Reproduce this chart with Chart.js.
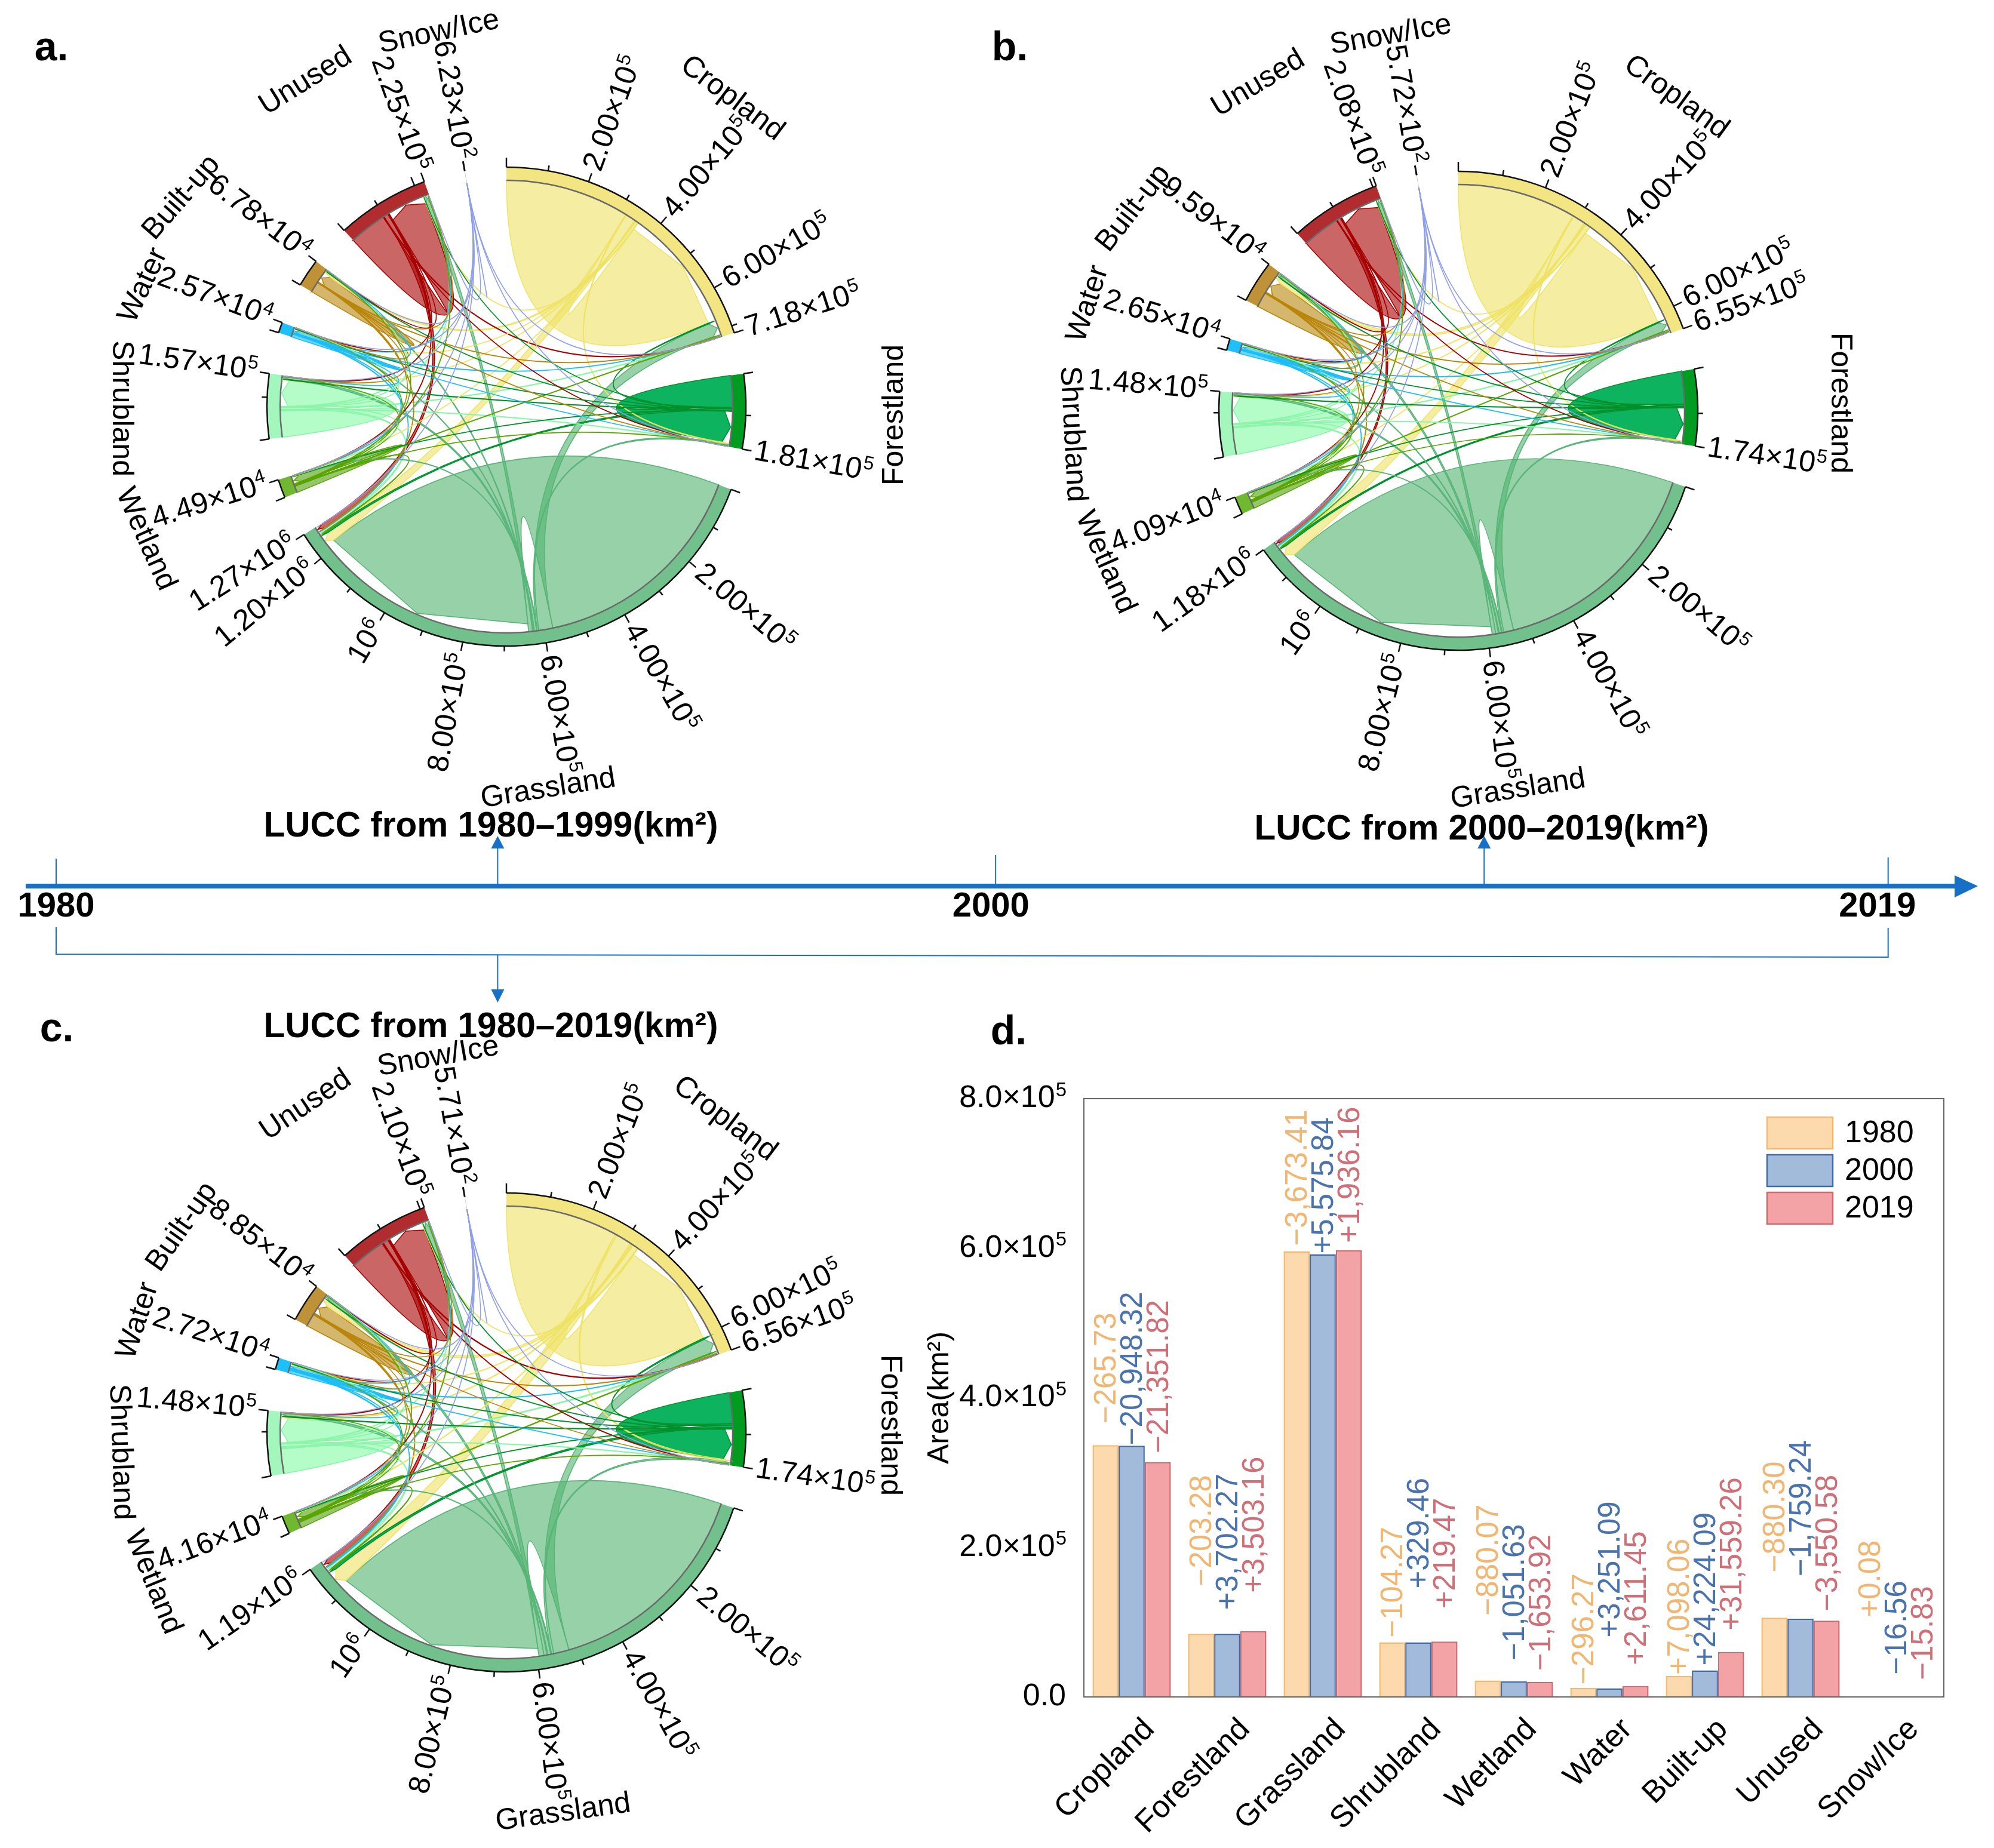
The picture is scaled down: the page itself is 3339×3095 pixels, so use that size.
<!DOCTYPE html>
<html>
<head>
<meta charset="utf-8">
<title>LUCC</title>
<script src="https://cdn.jsdelivr.net/npm/chart.js@4"></script>
<style>
html, body { margin: 0; background: #fff; }
#page { position: relative; width: 3339px; height: 3095px; overflow: hidden; font-family: "Liberation Sans", Arial, sans-serif; }
canvas { position: absolute; }
.letter, .title { position: absolute; font-weight: bold; color: #000; white-space: nowrap; transform: translate(-50%, -50%); }
.letter { font-size: 68px; }
.title { font-size: 58.5px; }
</style>
</head>
<body>
<div id="page">
  <canvas id="timeline" width="3339" height="320" style="left:0;top:1380px"></canvas>
  <canvas id="chordA" width="1400" height="1400"></canvas>
  <canvas id="chordB" width="1400" height="1400"></canvas>
  <canvas id="chordC" width="1400" height="1400"></canvas>
  <canvas id="bars" width="1799" height="1295" style="left:1540px;top:1800px"></canvas>
  <div class="letter" style="left:86px;top:77px">a.</div>
  <div class="letter" style="left:1691px;top:77px">b.</div>
  <div class="letter" style="left:95px;top:1720px">c.</div>
  <div class="letter" style="left:1689px;top:1725px">d.</div>
  <div class="title" style="left:822px;top:1380px">LUCC from 1980–1999(km²)</div>
  <div class="title" style="left:2481px;top:1385px">LUCC from 2000–2019(km²)</div>
  <div class="title" style="left:822px;top:1716px">LUCC from 1980–2019(km²)</div>
</div>
<script>
// land use classes
const categories = ['Cropland', 'Forestland', 'Grassland', 'Shrubland', 'Wetland', 'Water', 'Built-up', 'Unused', 'Snow/Ice'];
// clockwise order of the classes round a chord ring, wetland sits before shrubland there
const ringOrder = [0, 1, 2, 4, 3, 5, 6, 7, 8];

// ring totals
const totalsA = [718000, 181000, 1270000, 157000, 44900, 25700, 67800, 225000, 623];
const totalsB = [655000, 174000, 1180000, 148000, 40900, 26500, 95900, 208000, 572];
const totalsC = [656000, 174000, 1190000, 148000, 41600, 27200, 88500, 210000, 571];

// transfer tables, row = from, column = to (estimated from ribbon widths)
const flowsA = [
    [317000, 2200, 25000, 1500, 1200, 1300, 6200, 1300, 0],
    [2300, 81000, 5000, 1400, 300, 200, 500, 300, 0],
    [36000, 4000, 577000, 6000, 1500, 1700, 2700, 10000, 0],
    [2000, 1500, 5500, 67000, 300, 200, 300, 1500, 0],
    [1300, 300, 2000, 300, 16500, 1200, 200, 1000, 0],
    [1000, 150, 1500, 150, 800, 8200, 300, 300, 0],
    [700, 50, 1400, 30, 50, 100, 27000, 200, 0],
    [1500, 400, 12000, 1300, 900, 400, 700, 96000, 0],
    [22, 14, 30, 10, 6, 6, 8, 40, 240]
];
const flowsB = [
    [285000, 2300, 30000, 1700, 1300, 1800, 10500, 1100, 0],
    [2000, 78000, 4200, 1200, 250, 250, 800, 300, 0],
    [24000, 4000, 537000, 5500, 1400, 2000, 6500, 8500, 0],
    [1800, 1200, 4800, 63800, 300, 200, 500, 1300, 0],
    [1300, 250, 1700, 250, 15200, 1000, 300, 800, 0],
    [1200, 150, 1300, 120, 700, 8100, 600, 300, 0],
    [1000, 100, 2000, 80, 100, 200, 35700, 300, 0],
    [1300, 400, 9000, 1200, 700, 350, 1300, 90300, 0],
    [20, 12, 28, 8, 5, 6, 8, 35, 225]
];
const flowsC = [
    [270600, 4000, 38000, 3000, 2000, 2500, 12500, 2000, 0],
    [3500, 74000, 6000, 1700, 400, 350, 900, 500, 0],
    [37000, 5500, 522000, 7000, 2000, 2300, 7000, 12000, 0],
    [3000, 1700, 6500, 59500, 300, 250, 500, 2000, 0],
    [2000, 400, 2400, 350, 13700, 1100, 300, 1000, 0],
    [1300, 200, 2000, 150, 800, 7200, 700, 400, 0],
    [1200, 100, 2400, 100, 100, 300, 30300, 300, 0],
    [2300, 600, 13000, 1800, 900, 450, 1300, 85500, 0],
    [20, 12, 30, 8, 5, 6, 8, 32, 225]
];

// panel d
const area1980 = [336800, 84500, 596000, 73000, 22000, 12000, 28000, 106000, 300];
const area2000 = [336000, 84500, 592000, 73000, 21000, 11500, 35500, 104500, 300];
const area2019 = [314000, 88000, 597500, 74000, 20000, 14500, 60000, 102000, 300];
const change1980 = ['−265.73', '−203.28', '−3,673.41', '−104.27', '−880.07', '−296.27', '+7,098.06', '−880.30', '+0.08'];
const change2000 = ['−20,948.32', '+3,702.27', '+5,575.84', '+329.46', '−1,051.63', '+3,251.09', '+24,224.09', '−1,759.24', '−16.56'];
const change2019 = ['−21,351.82', '+3,503.16', '+1,936.16', '+219.47', '−1,653.92', '+2,611.45', '+31,559.26', '−3,550.58', '−15.83'];

// timeline
const timelineYears = [1980, 2000, 2019];
const timelineArrows = [1989.4, 2010.4];

// styling
const ringColors = ['#f3e682', '#009c22', '#72c08b', '#a3f7bd', '#70b830', '#1fc0fa', '#bf9238', '#b02c2f', '#8fa0c8'];
const ribbonFills = ['rgba(238,226,100,.6)', 'rgba(0,175,85,.95)', 'rgba(80,178,110,.6)', 'rgba(140,250,170,.65)', 'rgba(80,160,10,.6)', 'rgba(0,190,255,.6)', 'rgba(184,134,11,.6)', 'rgba(166,0,0,.6)', 'rgba(130,150,235,.7)'];
const ribbonLines = ['rgba(238,226,100,.9)', '#00902c', '#5ab57a', '#8cf5aa', '#5aa500', '#1fbdf5', '#b8860b', '#a60000', '#8fa0e8'];
const FONT = '"Liberation Sans", Arial, sans-serif';
const BLUE = '#1570c6';

// page position and rotation of the class names around each ring
const namesA = [[1226, 165, 37], [1498, 695, -90], [918, 1321, -9], [203, 684, 90], [244, 903, 66], [240, 478, -65], [304, 331, -49], [512, 136, -32], [735, 54, -12]];
const namesB = [[2807, 163, 36], [3081, 675, 90], [2542, 1322, -9], [1796, 727, 87], [1851, 942, 66], [1822, 509, -72], [1898, 349, -52], [2107, 140, -31], [2329, 59, -10]];
const namesC = [[1214, 1874, 37], [1490, 2387, 90], [943, 3036, -8], [202, 2432, 88], [256, 2650, 68], [231, 2212, -72], [305, 2055, -55], [512, 1851, -34], [734, 1770, -10]];

function sciParts(v) {
    if (v === 1000000) return ['10', '6'];
    const exp = Math.floor(Math.log10(v));
    return [(v / Math.pow(10, exp)).toFixed(2) + '×10', String(exp)];
}

// base text with a raised exponent, x is where the whole string starts or ends
function drawSup(ctx, parts, x, y, align, size) {
    const supSize = Math.round(size * 0.64);
    ctx.font = size + 'px ' + FONT;
    const w0 = ctx.measureText(parts[0]).width;
    ctx.font = supSize + 'px ' + FONT;
    const w1 = ctx.measureText(parts[1]).width;
    const left = align === 'right' ? x - w0 - w1 : x;
    ctx.textAlign = 'left';
    ctx.textBaseline = 'middle';
    ctx.font = size + 'px ' + FONT;
    ctx.fillText(parts[0], left, y);
    ctx.font = supSize + 'px ' + FONT;
    ctx.fillText(parts[1], left + w0 + 1, y - size * 0.26);
}

function drawRadial(ctx, cx, cy, angle, r, parts) {
    const right = Math.cos(angle) >= 0;
    ctx.save();
    ctx.translate(cx + r * Math.cos(angle), cy + r * Math.sin(angle));
    ctx.rotate(right ? angle : angle + Math.PI);
    drawSup(ctx, parts, 0, 0, right ? 'left' : 'right', 50);
    ctx.restore();
}

// ribbons, ticks and labels are drawn on top of the doughnut ring
function chordPlugin(totals, flows, colorsFill, colorsLine, names, originX, originY) {
    return {
        id: 'chord',
        afterDatasetsDraw(chart) {
            const ctx = chart.ctx;
            const arcs = chart.getDatasetMeta(0).data;
            const cx = arcs[0].x, cy = arcs[0].y;
            const ro = arcs[0].outerRadius, ri = arcs[0].innerRadius;
            const start = i => arcs[i * 2].startAngle;
            const scale = i => (arcs[i * 2].endAngle - arcs[i * 2].startAngle) / totals[i];
            const n = totals.length;

            // every class lays out its outflows first, then its inflows
            const used = totals.map(() => 0);
            const links = [];
            const take = (i, v) => {
                const a0 = start(i) + used[i] * scale(i);
                used[i] += v;
                return [a0, start(i) + used[i] * scale(i)];
            };
            for (let i = 0; i < n; i++) {
                links[i] = [];
                links[i][i] = { value: flows[i][i], from: i, to: i, src: take(i, flows[i][i]) };
                for (let j = 0; j < n; j++) {
                    if (j !== i && flows[i][j] > 0) links[i][j] = { value: flows[i][j], from: i, to: j, src: take(i, flows[i][j]) };
                }
            }
            for (let j = 0; j < n; j++) {
                links[j][j].dst = take(j, flows[j][j]);
                for (let i = 0; i < n; i++) {
                    if (j !== i && links[i][j]) links[i][j].dst = take(j, flows[i][j]);
                }
            }
            const all = links.flat().filter(Boolean).sort((a, b) => b.value - a.value);
            const at = (a, r) => [cx + r * Math.cos(a), cy + r * Math.sin(a)];
            all.forEach(l => {
                const rEnd = ri * 0.965;
                const t0 = at(l.dst[0], rEnd), tm = at((l.dst[0] + l.dst[1]) / 2, ri * 0.995), t1 = at(l.dst[1], rEnd);
                const s0 = at(l.src[0], ri);
                ctx.beginPath();
                ctx.arc(cx, cy, ri, l.src[0], l.src[1]);
                ctx.quadraticCurveTo(cx, cy, t0[0], t0[1]);
                ctx.lineTo(tm[0], tm[1]);
                ctx.lineTo(t1[0], t1[1]);
                ctx.quadraticCurveTo(cx, cy, s0[0], s0[1]);
                ctx.closePath();
                ctx.fillStyle = colorsFill[l.from];
                ctx.fill();
                ctx.strokeStyle = colorsLine[l.from];
                ctx.lineWidth = 1.6;
                ctx.stroke();
            });

            // ring edges, ticks and value labels
            ctx.fillStyle = '#000';
            for (let i = 0; i < n; i++) {
                const a0 = arcs[i * 2].startAngle, a1 = arcs[i * 2].endAngle;
                ctx.strokeStyle = '#6a6a6a';
                ctx.lineWidth = 2.5;
                ctx.beginPath();
                ctx.arc(cx, cy, ri, a0, a1);
                ctx.stroke();
                ctx.strokeStyle = '#111';
                ctx.lineWidth = 2.5;
                ctx.beginPath();
                ctx.arc(cx, cy, ro, a0, a1);
                ctx.stroke();
                const tick = (a, len) => {
                    const p = at(a, ro), q = at(a, ro + len);
                    ctx.beginPath();
                    ctx.moveTo(p[0], p[1]);
                    ctx.lineTo(q[0], q[1]);
                    ctx.stroke();
                };
                tick(a0, 16);
                tick(a1, 16);
                for (let v = 100000; v < totals[i]; v += 100000) {
                    const a = a0 + v * scale(i);
                    const major = v % 200000 === 0;
                    tick(a, major ? 15 : 9);
                    if (major && totals[i] >= 500000) drawRadial(ctx, cx, cy, a, ro + 21, sciParts(v));
                }
                drawRadial(ctx, cx, cy, a1, ro + 21, sciParts(totals[i]));
            }

            // class names
            ctx.font = '50px ' + FONT;
            ctx.textAlign = 'center';
            ctx.textBaseline = 'middle';
            categories.forEach((name, i) => {
                ctx.save();
                ctx.translate(names[i][0] - originX, names[i][1] - originY);
                ctx.rotate(names[i][2] * Math.PI / 180);
                ctx.fillText(name, 0, 0);
                ctx.restore();
            });
        }
    };
}

function makeChord(id, cx, cy, totals, flows, names) {
    const canvas = document.getElementById(id);
    canvas.style.left = (cx - 700) + 'px';
    canvas.style.top = (cy - 700) + 'px';
    const ringTotals = ringOrder.map(i => totals[i]);
    const ringFlows = ringOrder.map(i => ringOrder.map(j => flows[i][j]));
    const sum = totals.reduce((a, b) => a + b, 0);
    const gap = sum / 27;
    const values = [], colors = [];
    ringOrder.forEach((c, i) => {
        values.push(ringTotals[i], gap);
        colors.push(ringColors[c], 'rgba(0,0,0,0)');
    });
    new Chart(canvas, {
        type: 'doughnut',
        data: { datasets: [{ data: values, backgroundColor: colors, borderWidth: 0 }] },
        options: {
            responsive: false,
            animation: false,
            radius: 401,
            cutout: '94.5%',
            rotation: 0,
            events: [],
            plugins: { legend: { display: false }, tooltip: { enabled: false } }
        },
        plugins: [chordPlugin(ringTotals, ringFlows, ringOrder.map(c => ribbonFills[c]), ringOrder.map(c => ribbonLines[c]), names, cx - 700, cy - 700)]
    });
}

makeChord('chordA', 848, 681, totalsA, flowsA, namesA);
makeChord('chordB', 2442, 688, totalsB, flowsB, namesB);
makeChord('chordC', 848, 2399, totalsC, flowsC, namesC);

// timeline strip, x follows a linear year scale
const timelinePlugin = {
    id: 'timelineDraw',
    afterDraw(chart) {
        const ctx = chart.ctx;
        const x = chart.scales.x;
        const top = 1380;
        const arrow = (px, tipY, baseY) => {
            ctx.beginPath();
            ctx.moveTo(px, tipY);
            ctx.lineTo(px - 11, baseY);
            ctx.lineTo(px + 11, baseY);
            ctx.closePath();
            ctx.fill();
        };
        ctx.strokeStyle = BLUE;
        ctx.fillStyle = BLUE;
        // main axis
        ctx.lineWidth = 8;
        ctx.beginPath();
        ctx.moveTo(43, 1484 - top);
        ctx.lineTo(3280, 1484 - top);
        ctx.stroke();
        ctx.beginPath();
        ctx.moveTo(3312, 1484 - top);
        ctx.lineTo(3273, 1466 - top);
        ctx.lineTo(3273, 1503 - top);
        ctx.closePath();
        ctx.fill();
        // year ticks
        ctx.lineWidth = 2;
        const tops = [1438, 1432, 1436];
        timelineYears.forEach((y, i) => {
            ctx.beginPath();
            ctx.moveTo(x.getPixelForValue(y), tops[i] - top);
            ctx.lineTo(x.getPixelForValue(y), 1484 - top);
            ctx.stroke();
        });
        // arrows up to panels a and b
        timelineArrows.forEach(y => {
            const px = x.getPixelForValue(y);
            ctx.beginPath();
            ctx.moveTo(px, 1484 - top);
            ctx.lineTo(px, 1421 - top);
            ctx.stroke();
            arrow(px, 1400 - top, 1421 - top);
        });
        // bracket to panel c
        const x0 = x.getPixelForValue(timelineYears[0]), x1 = x.getPixelForValue(timelineYears[2]);
        ctx.beginPath();
        ctx.moveTo(x0, 1553 - top);
        ctx.lineTo(x0, 1598 - top);
        ctx.lineTo(x1, 1603 - top);
        ctx.lineTo(x1, 1554 - top);
        ctx.stroke();
        const mid = x.getPixelForValue(timelineArrows[0]);
        ctx.beginPath();
        ctx.moveTo(mid, 1600 - top);
        ctx.lineTo(mid, 1657 - top);
        ctx.stroke();
        arrow(mid, 1679 - top, 1657 - top);
        // year labels
        ctx.fillStyle = '#000';
        ctx.font = 'bold 58px ' + FONT;
        ctx.textAlign = 'center';
        ctx.textBaseline = 'middle';
        const shifts = [0, -8, -18];
        timelineYears.forEach((y, i) => {
            ctx.fillText(String(y), x.getPixelForValue(y) + shifts[i], 1519 - top);
        });
    }
};

new Chart(document.getElementById('timeline'), {
    type: 'scatter',
    data: { datasets: [{ data: timelineYears.map(y => ({ x: y, y: 0 })), pointRadius: 0 }] },
    options: {
        responsive: false,
        animation: false,
        events: [],
        layout: { padding: 0 },
        scales: {
            x: { type: 'linear', display: false, min: 1978.805, max: 2021.254 },
            y: { display: false, min: -1, max: 1 }
        },
        plugins: { legend: { display: false }, tooltip: { enabled: false } }
    },
    plugins: [timelinePlugin]
});

// panel d
const seriesLabels = ['1980', '2000', '2019'];
const seriesValues = [area1980, area2000, area2019];
const seriesChanges = [change1980, change2000, change2019];
const barFills = ['#fdd9ae', '#a2bbdb', '#f3a3a5'];
const barEdges = ['#f4b96e', '#3f6aa6', '#cc6a72'];
const changeColors = ['#f0b672', '#4a72ad', '#cf6f78'];
// distance from bar top to the start of its change label
const labelLift = [
    [36, 80, 9, 8, 109, 6, 2, 76, 133],
    [1, 40, 1, 90, 35, 85, 8, 71, 37],
    [15, 64, 12, 55, 19, 35, 36, 16, 28]
];

const barExtras = {
    id: 'barExtras',
    afterDatasetsDraw(chart) {
        const ctx = chart.ctx;
        const area = chart.chartArea;
        ctx.strokeStyle = '#666';
        ctx.lineWidth = 2;
        ctx.strokeRect(area.left, area.top, area.right - area.left, area.bottom - area.top);

        // y tick labels with raised exponents
        ctx.fillStyle = '#000';
        const yScale = chart.scales.y;
        yScale.ticks.forEach(t => {
            const py = yScale.getPixelForValue(t.value);
            if (t.value === 0) {
                ctx.font = '52px ' + FONT;
                ctx.textAlign = 'right';
                ctx.textBaseline = 'middle';
                ctx.fillText('0.0', area.left - 30, py);
            } else {
                drawSup(ctx, [(t.value / 100000).toFixed(1) + '×10', '5'], area.left - 30, py, 'right', 52);
            }
        });

        ctx.font = '51px ' + FONT;
        ctx.textBaseline = 'middle';
        seriesValues.forEach((vals, s) => {
            const bars = chart.getDatasetMeta(s).data;
            ctx.fillStyle = changeColors[s];
            ctx.textAlign = 'left';
            bars.forEach((bar, i) => {
                ctx.save();
                ctx.translate(bar.x + 3, bar.y - labelLift[s][i]);
                ctx.rotate(-Math.PI / 2);
                ctx.fillText(seriesChanges[s][i], 0, 0);
                ctx.restore();
            });
        });
        // legend inside the plot
        const lx = 3069 - 110 - 1540 + 0, ly = 1871 - 1800;
        seriesLabels.forEach((label, s) => {
            const y = ly + s * 63;
            ctx.fillStyle = barFills[s];
            ctx.strokeStyle = barEdges[s];
            ctx.lineWidth = 2.5;
            ctx.fillRect(lx, y, 110, 53);
            ctx.strokeRect(lx, y, 110, 53);
            ctx.fillStyle = '#000';
            ctx.textAlign = 'left';
            ctx.font = '52px ' + FONT;
            ctx.fillText(label, lx + 130, y + 28);
        });
    }
};

new Chart(document.getElementById('bars'), {
    type: 'bar',
    data: {
        labels: categories,
        datasets: seriesLabels.map((label, s) => ({
            label: label,
            data: seriesValues[s],
            backgroundColor: barFills[s],
            borderColor: barEdges[s],
            borderWidth: 2.5,
            categoryPercentage: 0.82,
            barPercentage: 1
        }))
    },
    options: {
        responsive: false,
        animation: false,
        events: [],
        layout: { padding: { top: 40, right: 84 } },
        scales: {
            x: {
                grid: { display: false, tickLength: 16, tickColor: '#555', drawTicks: true },
                border: { color: '#555', width: 2 },
                afterFit(scale) { scale.height = 253; },
                ticks: { color: '#000', font: { family: FONT, size: 52 }, maxRotation: 45, minRotation: 45, autoSkip: false, padding: 8, labelOffset: 30 }
            },
            y: {
                min: 0,
                max: 800000,
                grid: { display: false, tickLength: 16, tickColor: '#555' },
                border: { color: '#555', width: 2 },
                afterFit(scale) { scale.width = 275; },
                ticks: { stepSize: 200000, display: false },
                title: { display: true, text: 'Area(km²)', color: '#000', font: { family: FONT, size: 50 }, padding: { top: 4, bottom: 0 } }
            }
        },
        plugins: { legend: { display: false }, tooltip: { enabled: false } }
    },
    plugins: [barExtras]
});
</script>
</body>
</html>
